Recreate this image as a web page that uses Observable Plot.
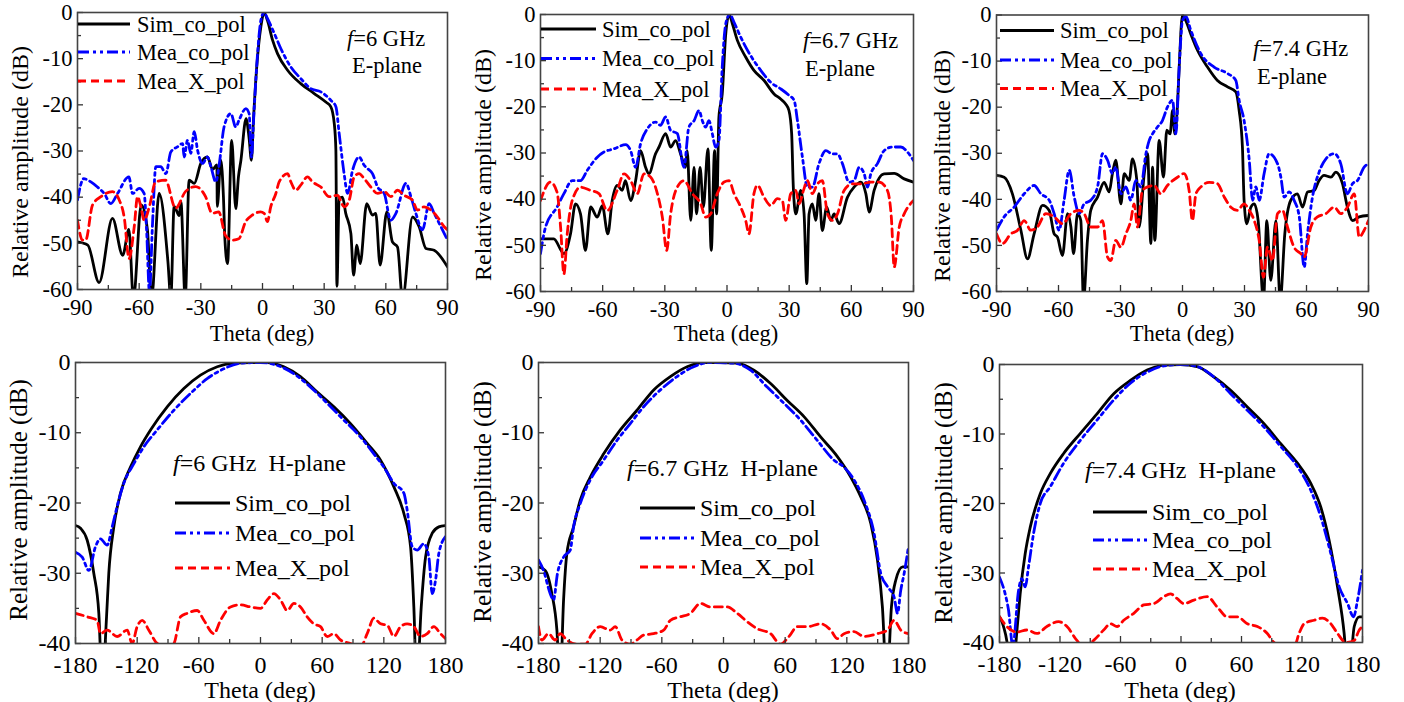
<!DOCTYPE html>
<html><head><meta charset="utf-8">
<script src="https://cdn.jsdelivr.net/npm/d3@7"></script>
<script src="https://cdn.jsdelivr.net/npm/@observablehq/plot@0.6"></script>
<style>
html,body{margin:0;padding:0;background:#fff;}
#root{position:relative;width:1404px;height:702px;overflow:hidden;background:#fff;font-family:"Liberation Serif","Times New Roman",serif;}
#root svg{position:absolute;font-family:"Liberation Serif","Times New Roman",serif !important;}
#root svg text{font-family:"Liberation Serif","Times New Roman",serif !important;}
</style></head><body><div id="root"></div>
<script>
// ---------- Data: [theta (deg), relative amplitude (dB)] ----------
const e6Sim = [[-90,-49.7],[-85,-50.4],[-79.5,-58.5],[-73,-44.6],[-68,-52.6],[-65,-47],[-62.8,-62],[-59,-41.7],[-56,-47],[-54,-62],[-50.3,-39.2],[-46,-54],[-44.6,-62],[-43,-42],[-40.5,-44],[-39.7,-41],[-37.6,-62],[-35.7,-36.3],[-33.2,-37],[-30,-32.7],[-26.8,-31.3],[-24.3,-34],[-22.2,-33],[-22,-42],[-20.3,-32],[-19,-40],[-18.3,-49],[-17,-54.4],[-15,-27.7],[-13,-42.5],[-11.7,-35.6],[-10.5,-32],[-8,-23],[-6.5,-27.3],[-5.4,-32],[-4.4,-23.3],[-2.8,-11.8],[-0.8,-3.1],[0.8,0],[2.4,-1.7],[4.9,-6],[7.3,-8.9],[12.2,-12.5],[18.6,-15.4],[25,-17.5],[30.8,-19.4],[33.2,-20.4],[34.9,-24],[35.7,-29.8],[36.2,-59.3],[37.3,-40.3],[38.9,-40],[40.5,-43.5],[43,-47.9],[44.3,-56.9],[45.9,-50.4],[47.5,-54.4],[50.7,-41.4],[53.5,-43.9],[55.1,-43.5],[57.2,-54.7],[60.5,-43.2],[63.2,-49.7],[65.7,-50.8],[68.1,-62],[73,-44.3],[76.2,-46.4],[79.5,-51.1],[83.5,-51.5],[90,-55.1]];
const e6Mea = [[-90,-40.6],[-87,-36],[-83.5,-36.7],[-80.3,-37.8],[-77,-39.2],[-73.8,-41.4],[-70.5,-39.2],[-65,-35.6],[-63.2,-39.2],[-60,-38.1],[-57.6,-39.2],[-56.4,-47],[-55,-60.5],[-53.5,-45.7],[-51.9,-33.4],[-49.5,-33.4],[-47,-34.9],[-44.6,-30.2],[-41.4,-29.1],[-38.9,-28.4],[-38.1,-31.3],[-36.5,-27.7],[-34.9,-30.5],[-33.2,-25.8],[-31.6,-29.8],[-29.2,-32.7],[-26.8,-31.3],[-25.1,-33.4],[-22.7,-36.7],[-21,-32.7],[-18.7,-24.8],[-15.4,-21.9],[-13,-24.8],[-11.4,-23.3],[-8.1,-20.8],[-6.5,-21.9],[-5.4,-31.3],[-4.1,-21.2],[-2.4,-8.9],[-0.8,-1.7],[0.8,0],[2.4,-1.3],[5.7,-4.5],[8.9,-7.8],[13.8,-11.8],[18.6,-14.3],[23.5,-16.5],[28.4,-17.2],[33.2,-19],[35.7,-20.4],[37.3,-26.2],[39.7,-34.9],[41.4,-39.2],[43.8,-34.2],[47,-31.3],[49.5,-33.1],[51.1,-33.8],[53.5,-34.9],[56,-37.8],[59.2,-39.2],[62.4,-45],[64.9,-43.5],[69.8,-37],[72.2,-39.9],[74.6,-43.5],[77.8,-47.1],[81.1,-41.4],[83.5,-43.5],[86.8,-46.4],[90,-49.3]];
const e6X = [[-90,-45],[-87.6,-49.3],[-86,-49.3],[-82.7,-41.7],[-78.6,-39.9],[-73,-38.8],[-69.7,-40.6],[-67.3,-44.3],[-64.9,-53.3],[-62.4,-46.4],[-60.8,-39.9],[-59.2,-42],[-57.6,-45],[-55,-42],[-52,-36.7],[-47.2,-36.3],[-42.3,-42.4],[-37.5,-38.8],[-32.6,-37.7],[-27.7,-39.9],[-24.5,-43.5],[-21.3,-43.2],[-18,-48.3],[-14.8,-49.3],[-11.5,-49],[-8.3,-45.4],[-5,-43.9],[-1,-43.2],[0.8,-43.5],[2.4,-45.3],[4,-42.1],[6.5,-39.2],[8.1,-36.7],[12.2,-34.9],[13.8,-36.7],[16.2,-38.5],[18.6,-37.4],[21.9,-35.6],[24.3,-36.7],[28.4,-37.8],[32.4,-39.9],[36.5,-39.6],[39.7,-42.1],[42.2,-40.6],[44.6,-35.6],[47,-34.9],[49.5,-36],[52.7,-37.8],[56,-39.2],[59.2,-38.8],[62.4,-39.9],[65.7,-38.5],[68.9,-39.6],[72.9,-40.6],[75.4,-42.8],[78.6,-42.1],[81.9,-42.8],[85.1,-44.3],[88.4,-46.4],[90,-47.1]];

const e67Sim = [[-90,-48.6],[-83.6,-48.6],[-78.7,-51.8],[-75.5,-47.5],[-73.1,-41],[-70.7,-43.2],[-68.3,-51.1],[-65.8,-41.7],[-62.6,-43.9],[-60.2,-41.4],[-57.5,-47.5],[-55.4,-40.3],[-53,-37],[-50.6,-38.1],[-49,-36],[-46.5,-40.3],[-44.1,-36],[-41.7,-29.5],[-39.3,-33.1],[-37.7,-34.5],[-34.5,-30.2],[-32.8,-28.7],[-29.6,-25.8],[-27.2,-28.7],[-24.8,-27.3],[-22.4,-30.2],[-20,-33.1],[-19.2,-29.5],[-17.5,-44.6],[-15.9,-33.1],[-14.7,-43.2],[-13,-33.1],[-11.4,-41.7],[-9.2,-29.1],[-7.6,-51.1],[-6,-29.5],[-5,-43.2],[-3.9,-22.2],[-2.3,-17.2],[-0.6,-4.2],[1,0],[2.6,-2],[5,-5.6],[9,-9.2],[13,-12.1],[17.9,-14.3],[22.7,-17.2],[25.9,-18.3],[28.3,-19.4],[29.9,-20.8],[31.2,-25.8],[32,-37.4],[33.2,-43.2],[35.6,-38.1],[37.2,-43.2],[38.5,-58.3],[39.6,-43.2],[41.2,-41],[42.8,-44.6],[44.4,-38.8],[46,-46.8],[48.1,-41.7],[50.1,-44.6],[51.7,-43.2],[54.1,-45.3],[58.1,-39.6],[61.3,-37.4],[64.6,-36.3],[67,-38.8],[68.6,-42.8],[71,-38.1],[75.8,-34.5],[80.7,-34.4],[85.5,-35.6],[90,-36.3]];
const e67Mea = [[-90,-51.8],[-87.6,-46.1],[-82,-41.7],[-78.7,-38.8],[-74.7,-36],[-70.7,-36],[-67.5,-33.8],[-62.6,-30.9],[-59.4,-29.8],[-54.6,-29.1],[-48.9,-28.2],[-46.5,-29.5],[-44.1,-33.1],[-41.7,-28],[-38.5,-24.8],[-34.5,-23.3],[-32.1,-24],[-29.6,-22.2],[-27.2,-25.1],[-24,-25.8],[-20.8,-33.1],[-18.4,-24.4],[-15.9,-23],[-13.5,-20.8],[-11.9,-23],[-10.3,-24.4],[-8.7,-23],[-7.1,-25.8],[-5.5,-28.7],[-3.9,-27.3],[-2.3,-11.4],[-0.6,-2],[1.4,0],[3.4,-1.7],[6.6,-4.9],[11.4,-8.9],[16.3,-12.1],[21.1,-14.7],[25.9,-16.1],[29.9,-17.5],[32.4,-18.6],[34,-23],[36.4,-30.9],[38.8,-37.4],[41.2,-37.4],[44.4,-32.3],[47.7,-29.5],[50.9,-30.2],[53.3,-30.2],[55.7,-32.3],[58.9,-36.3],[61.3,-36],[63.8,-33.1],[66.2,-34.5],[67.8,-37.4],[69.4,-34.5],[72.6,-32.3],[75.8,-29.5],[79.9,-28.7],[83.9,-28.7],[87.1,-29.8],[90,-31.6]];
const e67X = [[-90,-40.3],[-85.2,-36.3],[-82,-38.5],[-80.3,-46.1],[-78.7,-56.2],[-77.1,-47.5],[-74.7,-40.3],[-70.7,-37.4],[-65.8,-38.1],[-61.8,-38.8],[-57.8,-42.5],[-53,-38.1],[-49.7,-34.5],[-46.5,-36],[-43.3,-38.8],[-40.1,-34.5],[-36.9,-35.2],[-33.6,-38.8],[-31.2,-43.9],[-29.1,-51.1],[-27.2,-43.2],[-24,-37.4],[-20.8,-36],[-16.7,-38.8],[-12.7,-41],[-10.3,-43.9],[-7.9,-43.2],[-4.7,-38.8],[-1.4,-36.3],[1,-36],[3.4,-38.8],[6.6,-41.7],[9,-44.6],[10.6,-47.5],[13,-38.8],[14.7,-37],[17.9,-39.6],[21.1,-41.4],[24.3,-39.9],[26.7,-40.3],[28.3,-44.6],[30.8,-38.8],[33.2,-38.1],[34.8,-41],[36.9,-38.1],[38.8,-36],[41.2,-38.8],[43.6,-36.7],[46,-36],[48.5,-43.2],[50.9,-44.6],[53.3,-43.2],[56.5,-38.1],[60.5,-36.7],[64.6,-36.7],[69.4,-36.3],[73.4,-36.3],[77.4,-38.1],[79.3,-43.9],[80.7,-54.7],[83.1,-46.1],[85.5,-43.2],[90,-40.3]];

const e74Sim = [[-90,-34.8],[-86.3,-35.2],[-82.3,-38.8],[-78.2,-46.7],[-75,-52.9],[-71.8,-47.5],[-67.7,-41.3],[-64.5,-42.4],[-62.1,-47.5],[-60.5,-48.2],[-58.1,-52.2],[-55.6,-43.1],[-54,-46],[-52.7,-51.8],[-50.8,-43.1],[-49.2,-44.6],[-47.9,-62],[-46,-48.9],[-44.4,-42.4],[-41.1,-39.5],[-37.9,-36.3],[-35.5,-38.4],[-33.9,-34.4],[-32.3,-31.5],[-29.8,-41],[-28.2,-34.4],[-25.8,-35.9],[-24.2,-31.2],[-22.1,-35.9],[-21,-46],[-18.5,-34.4],[-16.9,-30.1],[-15.3,-49.6],[-14.5,-33],[-13.4,-48.9],[-11.3,-27.2],[-9.2,-35.2],[-7.6,-25],[-6,-25.8],[-4.8,-20.7],[-3.7,-25.8],[-2.4,-19.2],[-1.6,-11.3],[0,0],[1.6,-1.2],[4,-4.1],[7.3,-7.7],[12.1,-11.3],[16.9,-14.2],[21.8,-15.6],[25.8,-16.7],[27.4,-20.7],[29,-28.7],[29.8,-40.2],[31.1,-45.3],[33.1,-41.7],[34.7,-41],[36.6,-44.6],[39.2,-62],[40.8,-44.6],[42.7,-57.6],[45.2,-44.6],[47.3,-62],[49.5,-47.5],[52.4,-40.2],[55.6,-38.8],[58.1,-41.7],[60.5,-38.4],[63.7,-38.1],[66.1,-35.9],[68.5,-34.8],[71.8,-35.2],[74.2,-34.1],[77.4,-36.6],[79.8,-41.7],[82.3,-44.6],[85.5,-43.8],[90,-43.5]];
const e74Mea = [[-90,-46.7],[-86.3,-43.8],[-81.5,-41.7],[-76.6,-38.8],[-71.8,-37],[-68.5,-38.8],[-64.5,-40.2],[-62.1,-43.1],[-59.7,-46.7],[-57.3,-40.2],[-54.8,-33.7],[-52.4,-39.5],[-50,-43.1],[-47.6,-41],[-44.4,-40.2],[-41.1,-37.3],[-38.7,-30.1],[-36.3,-31.5],[-33.9,-34.4],[-32.3,-33],[-29.8,-38.8],[-27.4,-37.3],[-25,-40.2],[-22.6,-35.9],[-20.2,-37.3],[-17.7,-30.1],[-16.1,-27.2],[-14.5,-25.8],[-12.1,-24.3],[-9.7,-22.9],[-7.3,-20],[-4.8,-18.5],[-3.2,-25.8],[-1.6,-11.3],[0,-1.2],[1.6,-0.3],[4,-3.3],[8.9,-8.4],[15.3,-11.3],[21.8,-12.7],[25.8,-14.2],[27.4,-18.5],[29.8,-22.9],[32.3,-31.5],[33.9,-40.2],[35.5,-37.3],[37.1,-40.2],[39.5,-34.4],[41.9,-30.1],[46,-32.3],[47.6,-35.2],[49.2,-39.5],[51.6,-38.4],[54,-40.2],[56.5,-43.8],[58.9,-54.7],[60.5,-47.5],[62.9,-39.5],[66.1,-34.1],[69.4,-31.2],[73.4,-30.1],[76.6,-32.3],[79.8,-38.8],[82.3,-36.6],[84.7,-35.9],[87.9,-33],[90,-32.3]];
const e74X = [[-90,-47.5],[-87.1,-49.6],[-83.1,-47.5],[-79.8,-46.7],[-76.6,-44.6],[-73.4,-46.7],[-70.2,-46],[-66.1,-43.1],[-62.1,-43.8],[-58.1,-45.3],[-54,-43.1],[-50,-42.4],[-47.6,-43.1],[-44.4,-46],[-41.1,-46],[-38.7,-44.6],[-36.3,-52.5],[-34.7,-53.3],[-32.3,-48.9],[-29.8,-50.4],[-27.4,-47.5],[-25,-44.6],[-23.4,-41],[-21.8,-46],[-19.4,-38.1],[-16.9,-37.3],[-13.7,-37],[-10.5,-38.8],[-7.3,-37],[-2.4,-35.2],[0.8,-34.4],[3.2,-38.1],[4.8,-44.6],[6.5,-38.8],[8.9,-37.3],[12.9,-36.3],[16.9,-36.6],[20.2,-39.5],[23.4,-41.7],[26.6,-42.4],[29.8,-41],[32.3,-42.4],[34.7,-44.6],[37.1,-48.9],[39.2,-56.9],[41.1,-50.4],[43.5,-53.3],[46,-43.1],[48.4,-42.4],[50.8,-46],[54,-50.4],[57.3,-51.8],[58.9,-52.5],[62.1,-46],[65.3,-43.8],[69.4,-43.1],[73.4,-41.7],[76.6,-43.1],[79.8,-41.7],[83.1,-38.8],[85.5,-48.2],[87.9,-46.7],[90,-44.6]];

const h6Sim = [[-180,-23.2],[-175.1,-23.6],[-168.6,-25.3],[-162.2,-30],[-157.3,-35.7],[-154,-46],[-149.8,-36.2],[-147.6,-30],[-142.7,-23.4],[-136.2,-18.6],[-126.5,-14.9],[-116.8,-12],[-107,-9.6],[-90.8,-6.3],[-74.6,-3.7],[-58.4,-1.8],[-42.1,-0.6],[-26,-0.1],[-10,0],[6.5,0],[22.7,-0.6],[38.9,-2],[55.2,-4.2],[71.4,-6.3],[87.6,-8.7],[103.8,-11.5],[116.8,-13.9],[129.8,-17.7],[139.5,-21.5],[146,-26.2],[149.2,-34.8],[152,-46],[156.4,-34.8],[160.6,-27.7],[167.1,-24.3],[173.5,-23.4],[180,-23.2]];
const h6Mea = [[-180,-27],[-173.5,-27.7],[-167,-29.6],[-160.5,-26.2],[-155.7,-25.1],[-149.2,-26],[-144.3,-23.4],[-139.5,-20.5],[-133,-17.2],[-123.2,-14.4],[-113.5,-12],[-100.5,-9.6],[-84.3,-6.8],[-68.1,-4.4],[-51.9,-2.3],[-35.7,-0.9],[-19.4,-0.1],[0,0],[16.2,-0.4],[32.5,-1.6],[48.7,-3.5],[64.9,-5.8],[81.1,-8.2],[97.3,-10.6],[110.3,-13],[120,-14.9],[129.8,-17.2],[139.5,-18.6],[142.7,-21],[147.6,-26.2],[152.5,-26.7],[158.9,-25.8],[163.8,-27.7],[167.1,-32.9],[170.3,-31],[173.5,-27.2],[180,-24.8]];
const h6X = [[-180,-35.7],[-168.6,-36.2],[-159,-36.7],[-155.7,-38.6],[-149.2,-38.1],[-139.5,-39],[-129.7,-38.1],[-124.9,-40],[-120,-37.6],[-115.1,-36.7],[-108.6,-38.1],[-100.5,-40],[-90.8,-40.5],[-84.3,-40],[-77.8,-36.2],[-71.3,-35.7],[-61.6,-35.3],[-55.1,-36.7],[-45.4,-38.6],[-38.9,-36.7],[-29.2,-34.8],[-19.5,-34.5],[-9.7,-34.8],[0,-35],[6.5,-33.8],[13,-32.9],[19.5,-33.8],[26,-35.3],[32.5,-34.3],[38.9,-34.8],[45.4,-36.2],[51.9,-37.2],[58.4,-37.6],[64.9,-39],[71.4,-38.6],[77.9,-39.5],[87.6,-40],[97.3,-40.5],[103.8,-38.6],[110.3,-36.4],[116.8,-37.2],[123.3,-37.4],[129.8,-39],[136.2,-37.6],[142.7,-37.2],[149.2,-37.6],[155.7,-39],[162.2,-38.6],[168.7,-37.6],[175.1,-38.6],[180,-39.3]];

const h67Sim = [[-180,-29.1],[-173.5,-29.6],[-167,-32.9],[-162.1,-38.1],[-159,-46],[-155.6,-33.8],[-152.4,-27.2],[-145.9,-23.4],[-139.4,-19.6],[-129.6,-16.3],[-116.6,-13],[-100.4,-9.6],[-84.2,-6.8],[-67.9,-3.9],[-51.7,-2],[-35.4,-0.6],[-19.2,0],[-2.9,0],[13.3,-0.1],[29.6,-1.1],[45.8,-3],[62,-5.4],[78.3,-7.7],[94.5,-10.6],[110.8,-13.4],[123.8,-16.3],[133.5,-19.1],[143.3,-22.9],[149.8,-28.1],[154.6,-34.8],[159,-46],[163.4,-34.8],[167.6,-31],[174.2,-29.1],[180,-29.1]];
const h67Mea = [[-180,-28.1],[-175.1,-29.6],[-168.6,-32.9],[-165.4,-33.8],[-161.5,-30],[-155.6,-27.7],[-149.1,-26.7],[-145.9,-23.4],[-139.4,-20.1],[-129.6,-16.7],[-116.6,-13.9],[-103.7,-11.1],[-90.7,-8.7],[-77.7,-6.3],[-61.4,-3.9],[-45.2,-2],[-29,-0.6],[-12.7,0],[10.1,-0.1],[26.3,-1.1],[42.5,-3.5],[58.8,-5.8],[75,-8.2],[91.3,-11.1],[107.5,-13.9],[117.3,-14.9],[127,-16.7],[136.8,-19.6],[146.5,-24.3],[153,-30],[159.5,-31.9],[166,-33.4],[169.3,-35.7],[172.5,-32.4],[175.8,-30],[180,-26.2]];
const h67X = [[-180,-37.6],[-176.8,-39.5],[-170.3,-38.6],[-163.8,-39.5],[-158.9,-38.6],[-152.4,-39.5],[-142.6,-40.1],[-134.5,-40.1],[-128,-38.6],[-119.9,-37.6],[-110.2,-38.1],[-105.3,-37.6],[-98.8,-39.5],[-90.7,-40.1],[-84.2,-39.5],[-77.7,-38.8],[-68,-38.6],[-58.2,-38.1],[-51.7,-36.7],[-42,-36.2],[-32.2,-35.7],[-22.4,-34.3],[-12.7,-34.8],[3.6,-34.8],[13.3,-35.7],[23.1,-36.9],[32.8,-37.9],[45.8,-38.6],[55.5,-40.1],[63.7,-39],[71.8,-37.6],[81.5,-37.6],[94.5,-37.2],[104.3,-38.1],[110.8,-39.3],[117.3,-38.6],[127,-38.3],[136.8,-39],[149.8,-38.6],[159.5,-38.1],[166,-36.7],[172.5,-38.1],[180,-38.6]];

const h74Sim = [[-180,-36.3],[-176,-37.7],[-172,-40.5],[-168.5,-46],[-162.1,-37.3],[-159.5,-33],[-154.5,-27.2],[-149.5,-23.4],[-139.6,-18.6],[-129.7,-15.7],[-116.4,-12.8],[-99.8,-9.9],[-83.3,-7.1],[-66.7,-4.2],[-50.2,-2.3],[-33.6,-0.8],[-17,-0.1],[-0.5,0],[16.1,-0.3],[32.7,-1.8],[49.2,-3.7],[65.8,-6.1],[82.3,-8.5],[98.9,-11.4],[115.5,-14.2],[128.7,-17.1],[138.6,-20.5],[146.9,-25.3],[155.2,-32],[161.8,-38.7],[166,-46],[171.8,-37.7],[176.8,-36.3],[180,-36.3]];
const h74Mea = [[-180,-30.6],[-174.4,-33],[-171.1,-35.3],[-166.8,-40.5],[-161.1,-32.5],[-157.8,-30.8],[-154.5,-32],[-151.2,-29.1],[-146.2,-24.3],[-139.6,-20],[-129.7,-17.6],[-116.4,-14.2],[-99.8,-10.9],[-83.3,-8],[-66.7,-5.1],[-50.2,-2.7],[-33.6,-1.1],[-17,-0.2],[-0.5,0],[16.1,-0.3],[32.7,-1.8],[49.2,-4.2],[65.8,-6.6],[82.3,-9],[98.9,-11.8],[115.5,-14.7],[128.7,-18.1],[138.6,-21.9],[148.6,-27.2],[156.9,-32],[165.2,-34.4],[171.1,-36.3],[175.1,-33.9],[180,-29.6]];
const h74X = [[-180,-36.3],[-172.7,-37.7],[-162.8,-38.5],[-152.8,-38.2],[-142.9,-38.7],[-133,-37.7],[-121.4,-37],[-113.1,-37.7],[-103.2,-39.7],[-96.5,-40.6],[-86.6,-39.7],[-76.7,-38.2],[-70,-37.3],[-63.4,-37.7],[-56.8,-36.8],[-46.8,-35.8],[-36.9,-34.6],[-26.9,-34.4],[-17,-33.4],[-10.4,-33],[-3.7,-33.7],[2.8,-34.4],[12.8,-33.9],[26,-33.4],[36,-34.9],[45.9,-36.3],[55.8,-36.3],[65.8,-37.3],[75.7,-37.7],[85.6,-38.7],[92.3,-40],[102.2,-40.6],[112.2,-40.6],[117.1,-38.7],[122.1,-37.3],[132,-36.8],[140.3,-36.5],[148.6,-37.3],[155.2,-38.7],[163.5,-40],[171.8,-39.7],[176.8,-38.2],[180,-37.7]];

// ---------- Axes ticks / labels ----------
const eXTicks = [-90, -60, -30, 0, 30, 60, 90];
const eXMinor = [-75, -45, -15, 15, 45, 75];
const eYTicks = [-60, -50, -40, -30, -20, -10, 0];
const eYMinor = [-55, -45, -35, -25, -15, -5];
const hXTicks = [-180, -120, -60, 0, 60, 120, 180];
const hXMinor = [-150, -90, -30, 30, 90, 150];
const hYTicks = [-40, -30, -20, -10, 0];
const hYMinor = [-35, -25, -15, -5];
const seriesNames = ["Sim_co_pol", "Mea_co_pol", "Mea_X_pol"];
const freqLabels = ["6", "6.7", "7.4"];
const xTitle = "Theta (deg)";
const yTitle = "Relative amplitude (dB)";

const FONT = '"Liberation Serif", "Times New Roman", serif';
const styles = [
  {stroke: "#000000", dash: null},
  {stroke: "#0000ff", dash: "11,4,3,4,3,4"},
  {stroke: "#ff0000", dash: "8,5"}
];

const panels = [
  {series: [e6Sim, e6Mea, e6X], plane: "E", f: 0, left: 0, top: 0, w: 470, h: 335, ml: 77, mr: 23, mt: 12, mb: 46,
   fs: 22.5, tp: 10, leg: {x1: 78, x2: 130, tx: 137, rows: [24, 52, 81]}, ann: {x: 347, y1: 46, x2: 352, y2: 73},
   yt: [20, 162], xt: [262, 333], ts: 24},
  {series: [e67Sim, e67Mea, e67X], plane: "E", f: 1, left: 468, top: 0, w: 470, h: 335, ml: 72, mr: 25, mt: 14, mb: 44,
   fs: 22.5, tp: 10, leg: {x1: 541, x2: 596, tx: 602, rows: [29, 58.5, 89]}, ann: {x: 803, y1: 47.5, x2: 805, y2: 76},
   yt: [483, 165], xt: [726, 333], ts: 24},
  {series: [e74Sim, e74Mea, e74X], plane: "E", f: 2, left: 930, top: 0, w: 470, h: 335, ml: 66, mr: 32, mt: 14.5, mb: 44,
   fs: 22.5, tp: 10, leg: {x1: 1000, x2: 1054, tx: 1060, rows: [30.5, 60, 88.5]}, ann: {x: 1253, y1: 56, x2: 1257, y2: 84},
   yt: [942, 166], xt: [1182, 333], ts: 24},
  {series: [h6Sim, h6Mea, h6X], plane: "H", f: 0, left: 0, top: 340, w: 470, h: 362, ml: 75, mr: 25, mt: 22, mb: 59,
   fs: 24, tp: 12, leg: {x1: 175, x2: 230, tx: 235, rows: [503, 533, 568]}, ann: {x: 173, y1: 471},
   yt: [18, 500], xt: [260, 690], ts: 25},
  {series: [h67Sim, h67Mea, h67X], plane: "H", f: 1, left: 468, top: 340, w: 470, h: 362, ml: 70, mr: 30, mt: 22, mb: 59,
   fs: 24, tp: 12, leg: {x1: 640, x2: 695, tx: 700, rows: [508, 538, 567]}, ann: {x: 627, y1: 476},
   yt: [482, 502], xt: [723, 690], ts: 25},
  {series: [h74Sim, h74Mea, h74X], plane: "H", f: 2, left: 930, top: 340, w: 470, h: 362, ml: 69, mr: 38, mt: 24, mb: 60,
   fs: 24, tp: 12, leg: {x1: 1093, x2: 1147, tx: 1152, rows: [512, 540, 569]}, ann: {x: 1085, y1: 478},
   yt: [943, 503], xt: [1180, 690], ts: 25}
];

const root = document.getElementById("root");

for (const p of panels) {
  const isE = p.plane === "E";
  const fw = p.w - p.ml - p.mr, fh = p.h - p.mt - p.mb;
  const lines = p.series.map((s, i) => Plot.line(s, {
    x: d => d[0], y: d => d[1], stroke: styles[i].stroke, strokeWidth: 2.8,
    strokeDasharray: styles[i].dash, curve: "monotone-x", clip: true, strokeLinejoin: "round"
  }));
  const chart = Plot.plot({
    width: p.w, height: p.h,
    marginLeft: p.ml, marginRight: p.mr, marginTop: p.mt, marginBottom: p.mb,
    style: {fontFamily: FONT, fontSize: p.fs + "px", color: "#000", background: "transparent", overflow: "visible"},
    x: {domain: isE ? [-90, 90] : [-180, 180]},
    y: {domain: isE ? [-60, 0] : [-40, 0]},
    marks: [
      ...lines,
      Plot.tickX(isE ? eXTicks : hXTicks, {x: d => d, stroke: "#333", strokeWidth: 1.3, insetTop: fh - 6}),
      Plot.tickX(isE ? eXMinor : hXMinor, {x: d => d, stroke: "#333", strokeWidth: 1.3, insetTop: fh - 4}),
      Plot.tickY(isE ? eYTicks : hYTicks, {y: d => d, stroke: "#333", strokeWidth: 1.3, insetRight: fw - 6}),
      Plot.tickY(isE ? eYMinor : hYMinor, {y: d => d, stroke: "#333", strokeWidth: 1.3, insetRight: fw - 4}),
      Plot.frame({stroke: "#444", strokeWidth: 1.6}),
      Plot.axisX({ticks: isE ? eXTicks : hXTicks, tickSize: 0, tickPadding: p.tp, tickFormat: d => String(d), label: null, fontFamily: FONT, fontSize: p.fs}),
      Plot.axisY({ticks: isE ? eYTicks : hYTicks, tickSize: 0, tickPadding: 5, tickFormat: d => String(d), label: null, fontFamily: FONT, fontSize: p.fs})
    ]
  });
  chart.setAttribute("font-family", FONT);
  chart.style.left = p.left + "px";
  chart.style.top = p.top + "px";
  root.appendChild(chart);
}

// ---------- Overlay: legends, annotations, axis titles ----------
const ov = d3.select(root).append("svg")
  .attr("width", 1404).attr("height", 702)
  .attr("font-family", FONT)
  .style("left", "0px").style("top", "0px")
  .style("pointer-events", "none");

for (const p of panels) {
  const isE = p.plane === "E";
  p.leg.rows.forEach((y, i) => {
    ov.append("line").attr("x1", p.leg.x1).attr("x2", p.leg.x2).attr("y1", y).attr("y2", y)
      .attr("stroke", styles[i].stroke).attr("stroke-width", 3)
      .attr("stroke-dasharray", styles[i].dash);
    ov.append("text").attr("x", p.leg.tx).attr("y", y + 7.5)
      .attr("font-size", p.fs).attr("fill", "#000").text(seriesNames[i]);
  });
  if (isE) {
    const t = ov.append("text").attr("x", p.ann.x).attr("y", p.ann.y1).attr("font-size", p.fs).attr("fill", "#000");
    t.append("tspan").attr("font-style", "italic").text("f");
    t.append("tspan").text("=" + freqLabels[p.f] + " GHz");
    ov.append("text").attr("x", p.ann.x2).attr("y", p.ann.y2).attr("font-size", p.fs).attr("fill", "#000").text("E-plane");
  } else {
    const t = ov.append("text").attr("x", p.ann.x).attr("y", p.ann.y1).attr("font-size", p.fs).attr("fill", "#000")
      .style("white-space", "pre");
    t.append("tspan").attr("font-style", "italic").text("f");
    t.append("tspan").text("=" + freqLabels[p.f] + " GHz  H-plane");
  }
  ov.append("text").attr("transform", `translate(${p.yt[0]},${p.yt[1]}) rotate(-90)`)
    .attr("text-anchor", "middle").attr("dominant-baseline", "central")
    .attr("font-size", p.ts).attr("fill", "#000").text(yTitle);
  ov.append("text").attr("x", p.xt[0]).attr("y", p.xt[1])
    .attr("text-anchor", "middle").attr("dominant-baseline", "central")
    .attr("font-size", p.fs).attr("fill", "#000").text(xTitle);
}
</script></body></html>
